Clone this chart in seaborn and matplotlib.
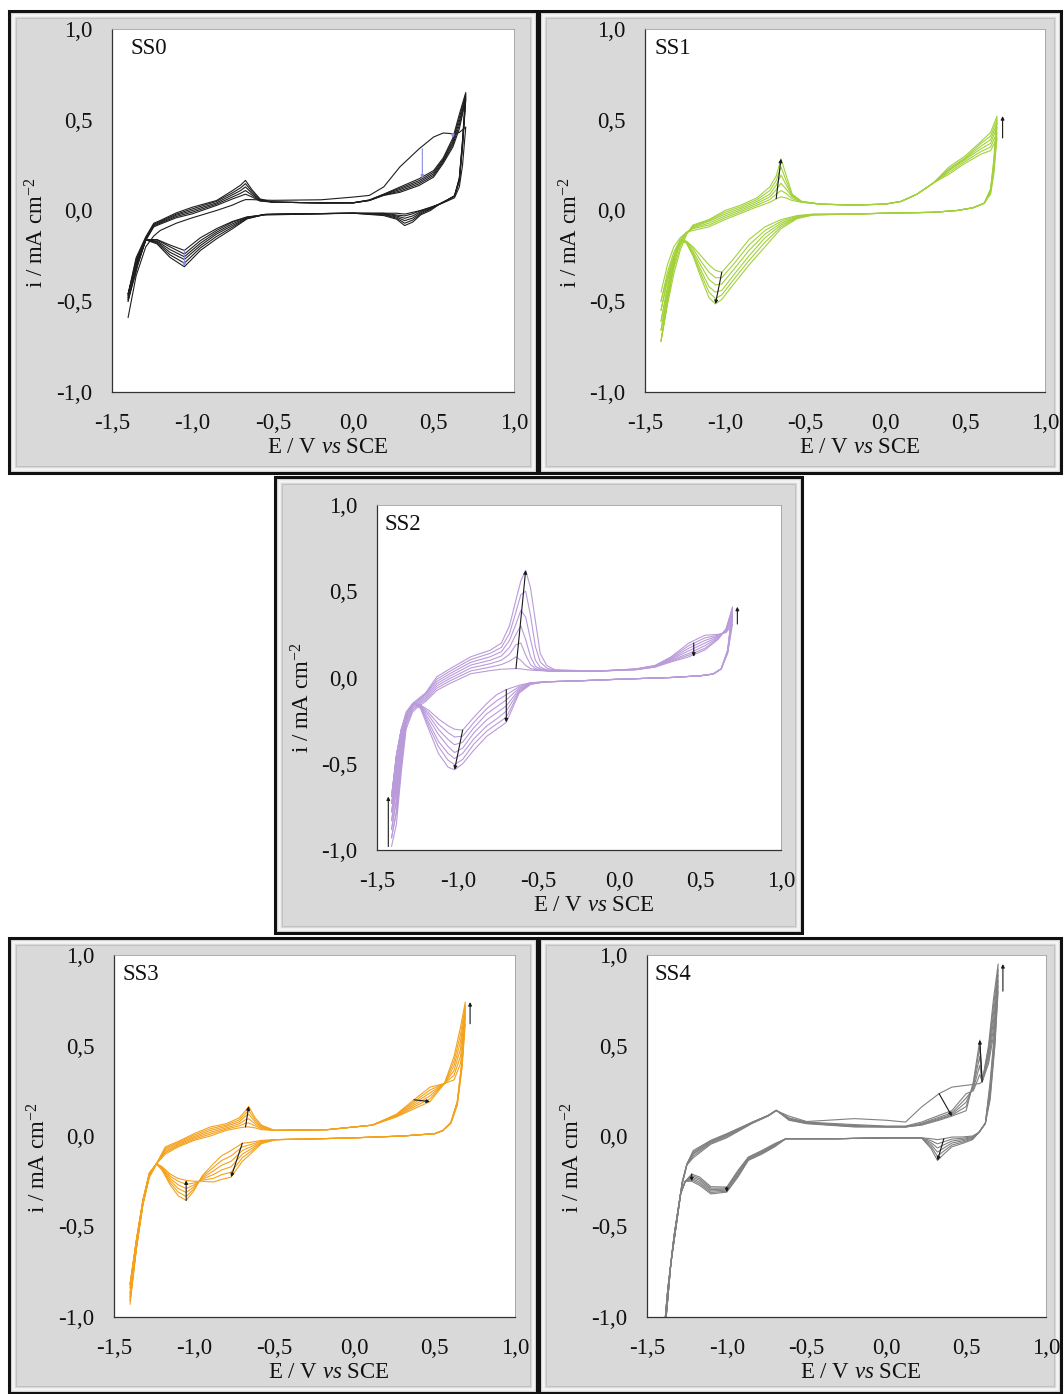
#!/usr/bin/env python3
# -*- coding: utf-8 -*-

#------------------
# IMPORTS
#------------------
import numpy as np
import pandas as pd
import matplotlib
matplotlib.use('Agg')
import matplotlib.pyplot as plt
import matplotlib.ticker as ticker
from matplotlib.patches import Rectangle
import seaborn as sns

# --------------------
# DATA, rows = cycles, first row = first cycle
# --------------------

# SS0
ss0_fwd_E = [-1.40, -1.35, -1.29, -1.24, -1.20, -1.10, -1.00, -0.85, -0.75, -0.70, -0.67, -0.63, -0.58,
             -0.50, -0.20, 0.00, 0.10, 0.19, 0.29, 0.41, 0.50, 0.56, 0.62, 0.66, 0.70]
ss0_fwd_i = [
    [-0.59, -0.36, -0.20, -0.14, -0.11, -0.07, -0.04, 0.00, 0.03, 0.05, 0.06, 0.06, 0.058, 0.056, 0.059, 0.074, 0.083, 0.13, 0.24, 0.34, 0.405, 0.427, 0.423, 0.43, 0.46],
    [-0.50, -0.30, -0.165, -0.09, -0.075, -0.04, -0.018, 0.028, 0.064, 0.08, 0.09, 0.075, 0.052, 0.046, 0.042, 0.042, 0.055, 0.083, 0.10, 0.138, 0.184, 0.26, 0.35, 0.45, 0.61],
    [-0.49, -0.29, -0.16, -0.085, -0.07, -0.033, -0.009, 0.035, 0.075, 0.095, 0.11, 0.085, 0.055, 0.046, 0.042, 0.042, 0.055, 0.085, 0.107, 0.147, 0.193, 0.268, 0.363, 0.47, 0.62],
    [-0.48, -0.28, -0.155, -0.08, -0.065, -0.026, 0.0, 0.042, 0.087, 0.11, 0.13, 0.095, 0.058, 0.046, 0.042, 0.042, 0.056, 0.087, 0.115, 0.156, 0.202, 0.275, 0.375, 0.49, 0.63],
    [-0.47, -0.27, -0.15, -0.075, -0.06, -0.02, 0.009, 0.05, 0.098, 0.125, 0.148, 0.105, 0.061, 0.046, 0.042, 0.043, 0.057, 0.089, 0.122, 0.165, 0.211, 0.282, 0.388, 0.51, 0.64],
    [-0.46, -0.26, -0.145, -0.07, -0.055, -0.013, 0.018, 0.055, 0.11, 0.14, 0.166, 0.115, 0.064, 0.046, 0.042, 0.043, 0.058, 0.09, 0.129, 0.175, 0.22, 0.29, 0.40, 0.53, 0.65],
]
ss0_rev_E = [0.70, 0.68, 0.66, 0.63, 0.58, 0.54, 0.48, 0.42, 0.37, 0.32, 0.27, 0.19, 0.00, -0.30, -0.55,
             -0.66, -0.75, -0.85, -0.95, -1.05, -1.14, -1.22, -1.29, -1.34, -1.40]
ss0_rev_i = [
    [0.46, 0.25, 0.13, 0.07, 0.05, 0.035, 0.015, 0.0, -0.01, -0.02, -0.015, -0.015, -0.015, -0.02, -0.025, -0.035, -0.06, -0.10, -0.15, -0.22, -0.19, -0.16, -0.16, -0.30, -0.50],
    [0.61, 0.35, 0.16, 0.08, 0.055, 0.037, 0.018, 0.0, -0.018, -0.03, -0.025, -0.015, -0.015, -0.018, -0.022, -0.037, -0.064, -0.11, -0.166, -0.24, -0.20, -0.162, -0.162, -0.30, -0.49],
    [0.62, 0.36, 0.165, 0.08, 0.055, 0.037, 0.014, -0.006, -0.03, -0.043, -0.03, -0.018, -0.015, -0.018, -0.022, -0.04, -0.073, -0.12, -0.18, -0.255, -0.215, -0.168, -0.162, -0.29, -0.48],
    [0.63, 0.37, 0.17, 0.08, 0.055, 0.037, 0.01, -0.012, -0.042, -0.056, -0.036, -0.021, -0.015, -0.018, -0.022, -0.042, -0.082, -0.13, -0.193, -0.27, -0.23, -0.173, -0.162, -0.28, -0.47],
    [0.64, 0.38, 0.175, 0.08, 0.055, 0.037, 0.006, -0.018, -0.053, -0.07, -0.042, -0.024, -0.015, -0.018, -0.022, -0.044, -0.091, -0.143, -0.206, -0.29, -0.244, -0.178, -0.162, -0.27, -0.46],
    [0.65, 0.39, 0.18, 0.08, 0.055, 0.037, 0.0, -0.024, -0.064, -0.083, -0.048, -0.028, -0.015, -0.018, -0.022, -0.046, -0.10, -0.156, -0.22, -0.31, -0.258, -0.184, -0.162, -0.26, -0.46],
]

# SS1
ss1_fwd_E = [-1.40, -1.36, -1.32, -1.28, -1.24, -1.20, -1.10, -1.00, -0.90, -0.80, -0.72, -0.68, -0.65, -0.62,
             -0.58, -0.52, -0.40, -0.20, 0.00, 0.10, 0.20, 0.30, 0.40, 0.50, 0.60, 0.66, 0.70]
ss1_fwd_i = [
    [-0.45, -0.30, -0.20, -0.15, -0.12, -0.11, -0.09, -0.05, -0.015, 0.02, 0.045, 0.065, 0.075, 0.07, 0.055, 0.045, 0.035, 0.03, 0.035, 0.05, 0.09, 0.15, 0.20, 0.26, 0.31, 0.33, 0.40],
    [-0.50, -0.34, -0.23, -0.16, -0.12, -0.10, -0.08, -0.04, -0.006, 0.03, 0.06, 0.09, 0.11, 0.095, 0.065, 0.046, 0.035, 0.03, 0.035, 0.05, 0.09, 0.15, 0.21, 0.27, 0.325, 0.35, 0.43],
    [-0.55, -0.38, -0.26, -0.17, -0.12, -0.095, -0.07, -0.03, 0.003, 0.04, 0.075, 0.115, 0.15, 0.12, 0.075, 0.047, 0.035, 0.03, 0.035, 0.05, 0.09, 0.15, 0.22, 0.28, 0.34, 0.37, 0.46],
    [-0.61, -0.43, -0.29, -0.18, -0.125, -0.09, -0.06, -0.02, 0.012, 0.05, 0.09, 0.14, 0.195, 0.145, 0.08, 0.048, 0.035, 0.03, 0.035, 0.05, 0.09, 0.15, 0.225, 0.285, 0.355, 0.39, 0.48],
    [-0.66, -0.47, -0.32, -0.20, -0.13, -0.085, -0.055, -0.01, 0.021, 0.06, 0.11, 0.165, 0.24, 0.17, 0.085, 0.049, 0.035, 0.03, 0.035, 0.05, 0.09, 0.15, 0.23, 0.29, 0.37, 0.41, 0.50],
    [-0.72, -0.52, -0.35, -0.22, -0.13, -0.08, -0.05, 0.0, 0.03, 0.07, 0.13, 0.19, 0.285, 0.20, 0.09, 0.05, 0.035, 0.03, 0.035, 0.05, 0.09, 0.15, 0.24, 0.30, 0.38, 0.43, 0.52],
]
ss1_rev_E = [0.70, 0.68, 0.66, 0.62, 0.55, 0.45, 0.30, 0.00, -0.22, -0.45, -0.55, -0.65, -0.75, -0.85, -0.95,
             -1.02, -1.06, -1.10, -1.15, -1.20, -1.24, -1.27, -1.30, -1.34, -1.37, -1.40]
ss1_rev_i = [
    [0.40, 0.20, 0.09, 0.04, 0.015, 0.0, -0.01, -0.015, -0.02, -0.02, -0.028, -0.05, -0.09, -0.16, -0.27, -0.34, -0.33, -0.30, -0.25, -0.20, -0.17, -0.16, -0.20, -0.30, -0.40, -0.50],
    [0.43, 0.22, 0.10, 0.04, 0.015, 0.0, -0.01, -0.015, -0.02, -0.021, -0.031, -0.06, -0.11, -0.19, -0.30, -0.37, -0.37, -0.34, -0.28, -0.21, -0.172, -0.162, -0.21, -0.32, -0.43, -0.55],
    [0.46, 0.24, 0.105, 0.04, 0.015, 0.0, -0.01, -0.015, -0.02, -0.022, -0.035, -0.07, -0.13, -0.22, -0.33, -0.405, -0.41, -0.38, -0.305, -0.225, -0.175, -0.163, -0.21, -0.34, -0.47, -0.61],
    [0.48, 0.25, 0.11, 0.04, 0.015, 0.0, -0.01, -0.015, -0.02, -0.023, -0.038, -0.08, -0.15, -0.25, -0.36, -0.44, -0.45, -0.42, -0.33, -0.235, -0.177, -0.164, -0.215, -0.36, -0.51, -0.66],
    [0.50, 0.265, 0.115, 0.04, 0.015, 0.0, -0.01, -0.015, -0.02, -0.024, -0.041, -0.09, -0.175, -0.275, -0.385, -0.465, -0.485, -0.45, -0.35, -0.245, -0.18, -0.165, -0.22, -0.38, -0.54, -0.72],
    [0.52, 0.28, 0.12, 0.04, 0.015, 0.0, -0.01, -0.015, -0.02, -0.025, -0.045, -0.10, -0.20, -0.30, -0.41, -0.49, -0.515, -0.48, -0.37, -0.25, -0.18, -0.165, -0.22, -0.40, -0.56, -0.72],
]

# SS2
ss2_fwd_E = [-1.41, -1.38, -1.35, -1.32, -1.28, -1.24, -1.20, -1.13, -1.05, -0.92, -0.80, -0.73, -0.68, -0.64,
             -0.61, -0.58, -0.55, -0.52, -0.49, -0.45, -0.40, -0.14, 0.10, 0.22, 0.32, 0.43, 0.53, 0.61, 0.66, 0.70]
ss2_fwd_i = [
    [-0.98, -0.85, -0.55, -0.30, -0.20, -0.165, -0.14, -0.075, -0.035, 0.022, 0.04, 0.048, 0.05, 0.052, 0.05, 0.046, 0.043, 0.041, 0.04, 0.037, 0.035, 0.037, 0.05, 0.07, 0.12, 0.20, 0.245, 0.25, 0.26, 0.31],
    [-0.93, -0.78, -0.51, -0.28, -0.19, -0.155, -0.13, -0.062, -0.02, 0.038, 0.06, 0.075, 0.095, 0.12, 0.10, 0.07, 0.052, 0.046, 0.043, 0.039, 0.036, 0.037, 0.049, 0.068, 0.115, 0.185, 0.23, 0.245, 0.265, 0.33],
    [-0.88, -0.71, -0.47, -0.265, -0.18, -0.148, -0.12, -0.049, -0.006, 0.055, 0.08, 0.10, 0.135, 0.19, 0.20, 0.13, 0.075, 0.052, 0.045, 0.04, 0.037, 0.037, 0.048, 0.066, 0.11, 0.17, 0.215, 0.24, 0.27, 0.35],
    [-0.83, -0.64, -0.43, -0.25, -0.17, -0.14, -0.11, -0.036, 0.008, 0.072, 0.10, 0.125, 0.175, 0.25, 0.30, 0.22, 0.12, 0.065, 0.05, 0.042, 0.038, 0.037, 0.047, 0.064, 0.105, 0.155, 0.20, 0.235, 0.275, 0.37],
    [-0.78, -0.57, -0.39, -0.235, -0.162, -0.132, -0.10, -0.023, 0.022, 0.088, 0.12, 0.15, 0.215, 0.31, 0.39, 0.35, 0.22, 0.10, 0.06, 0.045, 0.04, 0.037, 0.046, 0.062, 0.10, 0.14, 0.185, 0.23, 0.28, 0.385],
    [-0.73, -0.51, -0.35, -0.215, -0.155, -0.126, -0.095, -0.01, 0.036, 0.104, 0.14, 0.175, 0.255, 0.38, 0.48, 0.50, 0.36, 0.18, 0.09, 0.055, 0.042, 0.037, 0.045, 0.061, 0.095, 0.13, 0.17, 0.225, 0.28, 0.40],
    [-0.69, -0.45, -0.30, -0.20, -0.15, -0.12, -0.09, 0.004, 0.05, 0.12, 0.158, 0.20, 0.30, 0.45, 0.56, 0.622, 0.52, 0.33, 0.14, 0.07, 0.045, 0.037, 0.045, 0.06, 0.09, 0.12, 0.16, 0.22, 0.28, 0.41],
]
ss2_rev_E = [0.70, 0.67, 0.63, 0.58, 0.50, 0.32, 0.00, -0.27, -0.46, -0.55, -0.62, -0.70, -0.76, -0.82, -0.90,
             -0.97, -1.02, -1.06, -1.12, -1.18, -1.23, -1.27, -1.31, -1.35, -1.38, -1.41]
ss2_rev_i = [
    [0.31, 0.14, 0.05, 0.02, 0.01, 0.0, -0.01, -0.02, -0.025, -0.03, -0.045, -0.07, -0.10, -0.15, -0.23, -0.305, -0.30, -0.28, -0.24, -0.19, -0.16, -0.15, -0.21, -0.48, -0.78, -0.93],
    [0.33, 0.145, 0.05, 0.02, 0.01, 0.0, -0.01, -0.02, -0.025, -0.032, -0.053, -0.10, -0.135, -0.18, -0.26, -0.34, -0.345, -0.32, -0.27, -0.205, -0.162, -0.15, -0.205, -0.45, -0.72, -0.88],
    [0.35, 0.15, 0.05, 0.02, 0.01, 0.0, -0.01, -0.02, -0.025, -0.034, -0.061, -0.13, -0.17, -0.21, -0.29, -0.375, -0.39, -0.36, -0.30, -0.22, -0.165, -0.15, -0.20, -0.42, -0.66, -0.83],
    [0.37, 0.15, 0.05, 0.02, 0.01, 0.0, -0.01, -0.02, -0.025, -0.036, -0.069, -0.165, -0.205, -0.245, -0.32, -0.41, -0.435, -0.40, -0.33, -0.24, -0.168, -0.15, -0.20, -0.39, -0.60, -0.78],
    [0.385, 0.155, 0.05, 0.02, 0.01, 0.0, -0.01, -0.02, -0.025, -0.037, -0.077, -0.195, -0.24, -0.28, -0.355, -0.44, -0.47, -0.44, -0.37, -0.26, -0.172, -0.15, -0.20, -0.36, -0.55, -0.73],
    [0.40, 0.155, 0.05, 0.02, 0.01, 0.0, -0.01, -0.02, -0.025, -0.039, -0.084, -0.23, -0.27, -0.31, -0.385, -0.475, -0.505, -0.48, -0.40, -0.28, -0.176, -0.15, -0.20, -0.33, -0.50, -0.69],
    [0.41, 0.16, 0.05, 0.02, 0.01, 0.0, -0.01, -0.02, -0.025, -0.04, -0.09, -0.26, -0.30, -0.34, -0.42, -0.50, -0.535, -0.52, -0.44, -0.30, -0.18, -0.15, -0.20, -0.30, -0.45, -0.69],
]

# SS3
ss3_fwd_E = [-1.40, -1.36, -1.32, -1.28, -1.235, -1.18, -1.10, -1.00, -0.90, -0.80, -0.72, -0.68, -0.66,
             -0.62, -0.58, -0.50, -0.17, 0.11, 0.26, 0.37, 0.47, 0.56, 0.62, 0.66, 0.69]
ss3_fwd_i = [
    [-0.93, -0.62, -0.38, -0.23, -0.153, -0.10, -0.06, -0.024, 0.0, 0.031, 0.045, 0.05, 0.05, 0.045, 0.035, 0.031, 0.035, 0.06, 0.12, 0.20, 0.27, 0.29, 0.31, 0.40, 0.62],
    [-0.91, -0.61, -0.375, -0.225, -0.153, -0.092, -0.054, -0.017, 0.01, 0.038, 0.056, 0.07, 0.072, 0.056, 0.04, 0.031, 0.035, 0.06, 0.117, 0.19, 0.254, 0.29, 0.336, 0.44, 0.66],
    [-0.89, -0.60, -0.37, -0.22, -0.153, -0.084, -0.048, -0.01, 0.02, 0.045, 0.067, 0.09, 0.095, 0.067, 0.045, 0.031, 0.035, 0.06, 0.114, 0.18, 0.238, 0.29, 0.362, 0.48, 0.68],
    [-0.87, -0.59, -0.365, -0.215, -0.153, -0.076, -0.042, -0.003, 0.03, 0.053, 0.078, 0.11, 0.12, 0.078, 0.05, 0.031, 0.035, 0.06, 0.111, 0.17, 0.222, 0.29, 0.388, 0.52, 0.70],
    [-0.84, -0.58, -0.36, -0.21, -0.153, -0.068, -0.036, 0.005, 0.04, 0.06, 0.089, 0.125, 0.142, 0.089, 0.055, 0.031, 0.035, 0.06, 0.108, 0.16, 0.206, 0.29, 0.414, 0.56, 0.72],
    [-0.82, -0.57, -0.355, -0.205, -0.153, -0.06, -0.03, 0.013, 0.05, 0.068, 0.10, 0.14, 0.164, 0.10, 0.06, 0.031, 0.035, 0.06, 0.105, 0.15, 0.19, 0.29, 0.44, 0.60, 0.74],
]
ss3_rev_E = [0.69, 0.67, 0.64, 0.60, 0.55, 0.50, 0.30, 0.00, -0.30, -0.49, -0.58, -0.65, -0.70, -0.77, -0.83,
             -0.88, -0.95, -1.00, -1.05, -1.10, -1.15, -1.20, -1.235, -1.28, -1.32, -1.36, -1.40]
ss3_rev_i = [
    [0.62, 0.38, 0.17, 0.07, 0.03, 0.013, 0.0, -0.01, -0.017, -0.02, -0.024, -0.035, -0.04, -0.08, -0.11, -0.153, -0.22, -0.30, -0.356, -0.33, -0.27, -0.19, -0.153, -0.22, -0.38, -0.62, -0.91],
    [0.66, 0.39, 0.175, 0.071, 0.03, 0.013, 0.0, -0.01, -0.017, -0.02, -0.028, -0.048, -0.06, -0.11, -0.136, -0.173, -0.226, -0.29, -0.334, -0.31, -0.258, -0.186, -0.153, -0.218, -0.375, -0.61, -0.89],
    [0.68, 0.40, 0.18, 0.072, 0.03, 0.013, 0.0, -0.01, -0.017, -0.02, -0.031, -0.061, -0.08, -0.14, -0.162, -0.193, -0.232, -0.28, -0.312, -0.29, -0.246, -0.182, -0.153, -0.215, -0.37, -0.60, -0.87],
    [0.70, 0.41, 0.185, 0.073, 0.03, 0.013, 0.0, -0.01, -0.017, -0.02, -0.035, -0.074, -0.10, -0.17, -0.188, -0.213, -0.238, -0.27, -0.29, -0.27, -0.234, -0.178, -0.153, -0.212, -0.365, -0.59, -0.84],
    [0.72, 0.415, 0.188, 0.074, 0.03, 0.013, 0.0, -0.01, -0.017, -0.02, -0.038, -0.087, -0.12, -0.20, -0.214, -0.234, -0.244, -0.26, -0.267, -0.25, -0.222, -0.174, -0.153, -0.208, -0.36, -0.58, -0.82],
    [0.74, 0.42, 0.19, 0.075, 0.03, 0.013, 0.0, -0.01, -0.017, -0.02, -0.042, -0.10, -0.14, -0.227, -0.24, -0.254, -0.25, -0.25, -0.245, -0.235, -0.21, -0.17, -0.153, -0.205, -0.355, -0.57, -0.82],
]

# SS4
ss4_fwd_E = [-1.42, -1.38, -1.35, -1.31, -1.28, -1.25, -1.21, -1.10, -1.00, -0.84, -0.74, -0.69, -0.61, -0.50,
             -0.20, 0.00, 0.12, 0.22, 0.33, 0.41, 0.50, 0.545, 0.585, 0.60, 0.64, 0.67, 0.70]
ss4_fwd_i = [
    [-1.35, -1.00, -0.70, -0.45, -0.27, -0.16, -0.12, -0.045, -0.01, 0.07, 0.11, 0.14, 0.11, 0.08, 0.096, 0.087, 0.077, 0.16, 0.234, 0.27, 0.28, 0.285, 0.29, 0.30, 0.40, 0.55, 0.80],
    [-1.35, -1.00, -0.70, -0.45, -0.265, -0.158, -0.11, -0.04, -0.004, 0.072, 0.112, 0.14, 0.10, 0.077, 0.063, 0.055, 0.055, 0.077, 0.114, 0.14, 0.234, 0.25, 0.34, 0.30, 0.42, 0.59, 0.83],
    [-1.35, -1.00, -0.70, -0.45, -0.262, -0.157, -0.10, -0.035, 0.001, 0.074, 0.113, 0.142, 0.097, 0.074, 0.058, 0.052, 0.052, 0.07, 0.104, 0.128, 0.21, 0.262, 0.39, 0.30, 0.44, 0.63, 0.86],
    [-1.35, -1.00, -0.70, -0.45, -0.26, -0.156, -0.095, -0.03, 0.005, 0.075, 0.114, 0.142, 0.094, 0.072, 0.055, 0.05, 0.05, 0.066, 0.097, 0.12, 0.187, 0.275, 0.44, 0.30, 0.46, 0.67, 0.89],
    [-1.35, -1.00, -0.70, -0.45, -0.258, -0.155, -0.088, -0.027, 0.009, 0.076, 0.114, 0.142, 0.09, 0.07, 0.052, 0.05, 0.05, 0.062, 0.092, 0.115, 0.163, 0.288, 0.49, 0.30, 0.48, 0.71, 0.92],
    [-1.35, -1.00, -0.70, -0.45, -0.255, -0.154, -0.08, -0.024, 0.013, 0.077, 0.114, 0.142, 0.087, 0.068, 0.05, 0.05, 0.05, 0.06, 0.087, 0.11, 0.14, 0.30, 0.53, 0.30, 0.50, 0.75, 0.95],
]
ss4_rev_E = [0.70, 0.68, 0.65, 0.62, 0.58, 0.54, 0.48, 0.41, 0.36, 0.32, 0.28, 0.22, 0.00, -0.31, -0.63, -0.70,
             -0.78, -0.865, -0.93, -1.00, -1.10, -1.17, -1.22, -1.26, -1.29, -1.33, -1.37, -1.42]
ss4_rev_i = [
    [0.80, 0.50, 0.20, 0.07, 0.02, 0.0, -0.005, -0.006, -0.015, -0.02, -0.015, -0.01, -0.01, -0.015, -0.015, -0.042, -0.08, -0.116, -0.19, -0.282, -0.28, -0.227, -0.21, -0.25, -0.32, -0.55, -0.85, -1.35],
    [0.83, 0.52, 0.22, 0.07, 0.02, -0.004, -0.012, -0.017, -0.032, -0.043, -0.026, -0.01, -0.01, -0.015, -0.015, -0.046, -0.084, -0.12, -0.197, -0.288, -0.288, -0.236, -0.218, -0.25, -0.32, -0.55, -0.85, -1.35],
    [0.86, 0.54, 0.24, 0.07, 0.02, -0.008, -0.019, -0.028, -0.049, -0.066, -0.037, -0.01, -0.01, -0.015, -0.015, -0.049, -0.088, -0.124, -0.205, -0.293, -0.296, -0.245, -0.226, -0.25, -0.32, -0.55, -0.85, -1.35],
    [0.89, 0.56, 0.26, 0.07, 0.02, -0.012, -0.026, -0.039, -0.066, -0.089, -0.048, -0.01, -0.01, -0.015, -0.015, -0.053, -0.092, -0.127, -0.212, -0.299, -0.304, -0.255, -0.234, -0.25, -0.32, -0.55, -0.85, -1.35],
    [0.92, 0.58, 0.28, 0.07, 0.02, -0.016, -0.033, -0.05, -0.083, -0.112, -0.059, -0.01, -0.01, -0.015, -0.015, -0.056, -0.096, -0.131, -0.22, -0.305, -0.312, -0.264, -0.242, -0.25, -0.32, -0.55, -0.85, -1.35],
    [0.95, 0.60, 0.30, 0.07, 0.02, -0.02, -0.04, -0.06, -0.10, -0.135, -0.07, -0.01, -0.01, -0.015, -0.015, -0.06, -0.10, -0.135, -0.227, -0.31, -0.32, -0.273, -0.25, -0.25, -0.32, -0.55, -0.85, -1.35],
]

panel_names = ['SS0', 'SS1', 'SS2', 'SS3', 'SS4']
panel_colors = ['#1e1e1e', '#a2d13a', '#b99bd9', '#f4a11c', '#808080']
x_ticks = [-1.5, -1.0, -0.5, 0.0, 0.5, 1.0]
y_ticks = [-1.0, -0.5, 0.0, 0.5, 1.0]

# arrows: (branch, node of first cycle, node of last cycle, x offset, colour)
ss0_arrows = [('fwd', 19, 19, 0.02, '#8c8ce0'), ('rev', 19, 19, 0.0, '#8c8ce0'), ('fwd', 22, 22, 0.0, '#8c8ce0')]
ss1_arrows = [('fwd', 11, 12, 0.0, 'k'), ('rev', 15, 16, 0.0, 'k'), ('fwd', 26, 26, 0.035, 'k')]
ss2_arrows = [('fwd', 13, 15, 0.0, 'k'), ('rev', 15, 16, 0.0, 'k'), ('rev', 11, 11, 0.0, 'k'),
              ('fwd', 25, 25, 0.03, 'k'), ('fwd', 29, 29, 0.03, 'k'), ('fwd', 0, 0, -0.02, 'k')]
ss3_arrows = [('fwd', 11, 12, 0.0, 'k'), ('rev', 12, 13, 0.0, 'k'), ('rev', 18, 18, 0.0, 'k'),
              ('fwd', 19, 20, 0.0, 'k'), ('fwd', 24, 24, 0.03, 'k')]
ss4_arrows = [('fwd', 18, 19, 0.0, 'k'), ('fwd', 23, 22, 0.0, 'k'), ('rev', 8, 9, 0.0, 'k'),
              ('rev', 19, 19, 0.0, 'k'), ('rev', 22, 22, 0.0, 'k'), ('fwd', 26, 26, 0.03, 'k')]

# --------------------
# LAYOUT (pixels, from top-left of the 1064x1394 image)
# --------------------
W, H = 1064, 1394
axes_px = [(112, 29, 514, 392), (645, 29, 1045, 392), (377, 505, 781, 850),
           (114, 955, 515, 1317), (647, 955, 1046, 1317)]
frame_px = [(9, 11, 537, 473), (539, 11, 1061, 473), (275, 477, 802, 933),
            (9, 938, 537, 1393), (539, 938, 1061, 1393)]
label_dx_px = [18, 10, 8, 8, 8]
tick_fs = 16.5
label_fs = 16.5


# --------------------
# FUNCTIONS
# --------------------
def to_fig(box):
    x0, y0, x1, y1 = box
    return [x0 / W, 1 - y1 / H, (x1 - x0) / W, (y1 - y0) / H]


def draw_frame(fig, box):
    x0, y0, x1, y1 = box
    r = to_fig(box)
    fig.patches.append(Rectangle((r[0], r[1]), r[2], r[3], transform=fig.transFigure,
                                 facecolor='#d9d9d9', edgecolor='#111111', lw=2.2, zorder=-3))
    for inset, ec, lw in [(4, '#f6f6f6', 1.8), (7, '#bdbdbd', 0.6)]:
        ri = to_fig((x0 + inset, y0 + inset, x1 - inset, y1 - inset))
        fig.patches.append(Rectangle((ri[0], ri[1]), ri[2], ri[3], transform=fig.transFigure,
                                     facecolor='none', edgecolor=ec, lw=lw, zorder=-2))


def build_df(fwd_E, fwd_i, rev_E, rev_i):
    frames = []
    for c, (up, dn) in enumerate(zip(fwd_i, rev_i)):
        assert len(up) == len(fwd_E) and len(dn) == len(rev_E), (c, len(up), len(dn))
        E = list(fwd_E) + list(rev_E)
        i = list(up) + list(dn)
        frames.append(pd.DataFrame({'E': E, 'i': i, 'cycle': c, 'step': np.arange(len(E))}))
    return pd.concat(frames, ignore_index=True)


def comma_fmt(v, pos):
    return '{:.1f}'.format(v).replace('.', ',')


def plot_panel(fig, k, fwd_E, fwd_i, rev_E, rev_i, arrows):
    ax = fig.add_axes(to_fig(axes_px[k]))
    ax.set_zorder(1)
    ax.set_facecolor('white')
    df = build_df(fwd_E, fwd_i, rev_E, rev_i)
    sns.lineplot(data=df, x='E', y='i', units='cycle', estimator=None, sort=False,
                 color=panel_colors[k], lw=0.8, legend=False, ax=ax)

    branches = {'fwd': (fwd_E, fwd_i), 'rev': (rev_E, rev_i)}
    for br, k0, k1, dx, col in arrows:
        E, rows = branches[br]
        ax.annotate('', xy=(E[k1] + dx, rows[-1][k1]), xytext=(E[k0] + dx, rows[0][k0]),
                    arrowprops=dict(arrowstyle='-|>', color=col, lw=0.8, mutation_scale=5,
                                    shrinkA=0, shrinkB=0))

    ax.set_xlim(-1.5, 1.0)
    ax.set_ylim(-1.0, 1.0)
    ax.set_xticks(x_ticks)
    ax.set_yticks(y_ticks)
    ax.xaxis.set_major_formatter(ticker.FuncFormatter(comma_fmt))
    ax.yaxis.set_major_formatter(ticker.FuncFormatter(comma_fmt))
    ax.tick_params(direction='in', length=4, width=0.8, color='#444444', labelsize=tick_fs,
                   labelcolor='#111111')
    ax.tick_params(axis='y', pad=14)
    ax.tick_params(axis='x', pad=15)
    for side in ['left', 'bottom']:
        ax.spines[side].set_color('#333333')
        ax.spines[side].set_linewidth(0.9)
    for side in ['top', 'right']:
        ax.spines[side].set_color('#a0a0a0')
        ax.spines[side].set_linewidth(0.6)
        ax.spines[side].set_visible(True)

    x0, y0, x1, y1 = axes_px[k]
    wpx, hpx = x1 - x0, y1 - y0
    ax.set_xlabel(r'E / V $\mathit{vs}$ SCE', fontsize=label_fs, color='#111111')
    ax.set_ylabel(r'i / mA cm$^{\mathrm{-2}}$', fontsize=label_fs, color='#111111')
    ax.xaxis.set_label_coords(0.536, -45.0 / hpx)
    ax.yaxis.set_label_coords(-63.0 / wpx, 0.44)
    ax.text(label_dx_px[k] / wpx, 1 - 9.0 / hpx, panel_names[k], transform=ax.transAxes,
            ha='left', va='top', fontsize=label_fs, color='#111111')
    return ax


# --------------------
# MAIN PROGRAM
# --------------------
if __name__ == "__main__":

    sns.set_theme(style='white')
    plt.rcParams['font.family'] = ['Liberation Serif', 'DejaVu Serif']
    plt.rcParams['mathtext.fontset'] = 'custom'
    plt.rcParams['mathtext.rm'] = 'Liberation Serif'
    plt.rcParams['mathtext.it'] = 'Liberation Serif:italic'

    fig = plt.figure(figsize=(W / 100, H / 100), dpi=100)
    fig.patch.set_facecolor('white')
    for box in frame_px:
        draw_frame(fig, box)

    plot_panel(fig, 0, ss0_fwd_E, ss0_fwd_i, ss0_rev_E, ss0_rev_i, ss0_arrows)
    plot_panel(fig, 1, ss1_fwd_E, ss1_fwd_i, ss1_rev_E, ss1_rev_i, ss1_arrows)
    plot_panel(fig, 2, ss2_fwd_E, ss2_fwd_i, ss2_rev_E, ss2_rev_i, ss2_arrows)
    plot_panel(fig, 3, ss3_fwd_E, ss3_fwd_i, ss3_rev_E, ss3_rev_i, ss3_arrows)
    plot_panel(fig, 4, ss4_fwd_E, ss4_fwd_i, ss4_rev_E, ss4_rev_i, ss4_arrows)

    fig.savefig('out.png', dpi=100, facecolor='white')
    plt.close()
